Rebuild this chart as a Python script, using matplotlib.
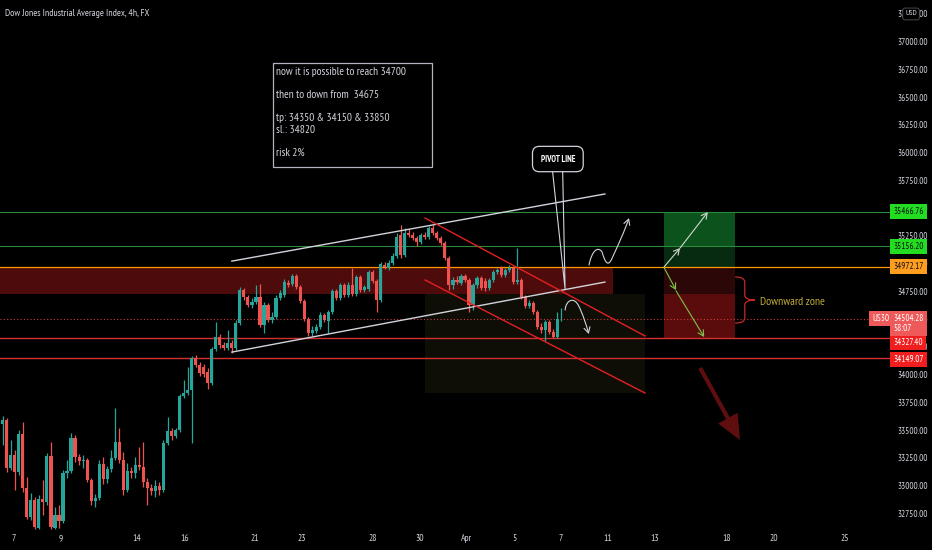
import numpy as np
import matplotlib
matplotlib.use("Agg")
import matplotlib.pyplot as plt
import matplotlib.transforms as mtransforms
from matplotlib.patches import Rectangle, FancyArrowPatch, PathPatch
from matplotlib.path import Path

plt.rcParams["font.family"] = ["PT Sans Narrow", "DejaVu Sans"]

TITLE = "Dow Jones Industrial Average Index, 4h, FX"

# 4h candles, US30 (price in points)
opens = [
    33555, 33591, 33158, 33275, 33122, 33465, 32978, 32717, 32870, 32618,
    32879, 32852, 33266, 32618, 32735, 32681, 33113, 33131, 33429, 33257,
    33221, 33230, 33050, 32861, 32888, 33194, 33059, 33149, 33248, 33393,
    33230, 32960, 33131, 33113, 33185, 33167, 33032, 32978, 32951, 32996,
    32960, 33384, 33492, 33447, 33501, 33807, 33834, 33861, 34150, 34086,
    34068, 34023, 33924, 34231, 34339, 34267, 34240, 34285, 34240, 34465,
    34762, 34699, 34627, 34654, 34699, 34447, 34627, 34492, 34519, 34690,
    34717, 34825, 34816, 34888, 34789, 34663, 34501, 34375, 34393, 34429,
    34537, 34483, 34564, 34753, 34690, 34807, 34717, 34807, 34726, 34879,
    34762, 34771, 34924, 34843, 34672, 34987, 34960, 35005, 35069, 35258,
    35078, 35276, 35258, 35231, 35195, 35258, 35240, 35321, 35276, 35231,
    35186, 35050, 34807, 34852, 34825, 34888, 34852, 34627, 34807, 34870,
    34843, 34780, 34852, 34924, 34960, 34898, 34942, 34960, 34834, 34852,
    34699, 34618, 34645, 34564, 34429, 34402, 34474, 34384, 34339, 34497,
]
highs = [
    33627, 33609, 33411, 33320, 33501, 33573, 33077, 32933, 32897, 32915,
    33050, 33293, 33393, 32807, 32825, 33140, 33230, 33474, 33456, 33284,
    33275, 33248, 33068, 32924, 33230, 33257, 33176, 33320, 33699, 33519,
    33302, 33203, 33167, 33257, 33348, 33393, 33068, 33014, 33050, 33032,
    33411, 33618, 33519, 33519, 33825, 33951, 34068, 34168, 34177, 34113,
    34095, 34059, 34249, 34474, 34366, 34294, 34402, 34312, 34492, 34789,
    34780, 34717, 34690, 34807, 34816, 34654, 34645, 34564, 34717, 34762,
    34861, 34852, 34906, 34906, 34807, 34681, 34519, 34438, 34456, 34564,
    34555, 34582, 34771, 34771, 34825, 34825, 34834, 34960, 34897, 34897,
    34807, 34942, 34942, 34861, 35014, 35014, 35032, 35095, 35276, 35348,
    35321, 35312, 35285, 35249, 35276, 35285, 35339, 35348, 35294, 35249,
    35204, 35069, 34879, 34888, 34906, 34906, 34870, 34825, 34888, 34888,
    34870, 34870, 34942, 34960, 34978, 34960, 34987, 34978, 35140, 34870,
    34717, 34672, 34663, 34582, 34465, 34492, 34492, 34411, 34560, 34600,
]
lows = [
    33366, 33122, 33140, 32960, 33095, 32942, 32699, 32690, 32610, 32610,
    32735, 32825, 32610, 32610, 32618, 32663, 33068, 33113, 33212, 33185,
    33158, 33032, 32825, 32807, 32870, 33014, 33023, 33122, 33230, 33203,
    32915, 32942, 33068, 33068, 33140, 32987, 32825, 32915, 32897, 32915,
    32942, 33366, 33411, 33429, 33483, 33789, 33816, 33384, 34069, 33987,
    33978, 33870, 33906, 34213, 34240, 34222, 34222, 34195, 34222, 34447,
    34672, 34609, 34600, 34636, 34429, 34375, 34474, 34465, 34501, 34672,
    34699, 34789, 34798, 34771, 34645, 34483, 34348, 34348, 34375, 34411,
    34474, 34375, 34546, 34672, 34672, 34699, 34699, 34708, 34708, 34744,
    34744, 34753, 34825, 34564, 34654, 34951, 34942, 34987, 35050, 35050,
    35059, 35240, 35213, 35158, 35177, 35222, 35222, 35258, 35213, 35168,
    35032, 34762, 34771, 34816, 34807, 34834, 34564, 34582, 34780, 34762,
    34753, 34762, 34834, 34906, 34880, 34880, 34924, 34816, 34816, 34681,
    34600, 34600, 34546, 34411, 34375, 34303, 34366, 34330, 34330, 34483,
]
closes = [
    33591, 33158, 33275, 33122, 33465, 32978, 32717, 32870, 32625, 32879,
    32852, 33266, 32625, 32735, 32681, 33113, 33131, 33429, 33257, 33221,
    33230, 33050, 32861, 32888, 33194, 33059, 33149, 33248, 33393, 33230,
    32960, 33131, 33113, 33185, 33167, 33032, 32978, 32951, 32996, 32960,
    33384, 33492, 33447, 33501, 33807, 33834, 33861, 34150, 34086, 34014,
    34005, 33924, 34231, 34339, 34267, 34240, 34285, 34240, 34465, 34762,
    34699, 34627, 34654, 34699, 34447, 34627, 34492, 34519, 34690, 34735,
    34834, 34807, 34888, 34789, 34663, 34501, 34375, 34402, 34429, 34537,
    34492, 34564, 34753, 34690, 34807, 34717, 34807, 34726, 34879, 34762,
    34789, 34924, 34843, 34672, 34996, 34969, 35005, 35069, 35240, 35078,
    35276, 35258, 35231, 35195, 35258, 35240, 35321, 35276, 35231, 35186,
    35050, 34807, 34852, 34834, 34888, 34852, 34627, 34807, 34870, 34780,
    34780, 34852, 34924, 34942, 34898, 34942, 34960, 34834, 34852, 34699,
    34618, 34645, 34564, 34429, 34402, 34474, 34384, 34339, 34501, 34504.28,
]

# time axis (bar index of each date label)
date_tick_pos = [2.6, 14.5, 33.4, 45.2, 62.8, 74.5, 92.1, 103.8, 115.3,
                 127.2, 138.9, 150.6, 162.3, 180.2, 191.9, 209.5]
date_tick_labels = ["7", "9", "14", "16", "21", "23", "28", "30", "Apr",
                    "5", "7", "11", "13", "18", "20", "25"]
price_ticks = [32750, 33000, 33250, 33500, 33750, 34000, 34250, 34500, 34750,
               35000, 35250, 35500, 35750, 36000, 36250, 36500, 36750, 37000,
               37250]

# horizontal levels
level_tp2 = 35466.76
level_tp1 = 35156.20
level_entry = 34972.17
level_last = 34504.28
level_s1 = 34327.40
level_s2 = 34149.07
zone_low = 34726
zone_sl_mid = 34730

# drawings (bar index, price)
white_upper = ([57.0, 149.8], [35023, 35628])
white_lower = ([57.0, 149.8], [34203, 34834])
red_upper = ([105.05, 159.8], [35411, 34348])
red_lower = ([105.05, 159.8], [34853, 33834])
pivot_tail = ([136.8, 139.9, 139.3], [35826, 34771, 35826])

NOTE = ("now it is possible to reach 34700\n\n"
        "then to down from  34675\n\n"
        "tp: 34350 & 34150 & 33850\n"
        "sl.: 34820\n\n"
        "risk 2%")

BG = "black"
TXT = "#d1d4dc"
UP = "#26a69a"
DOWN = "#ef5350"

fig = plt.figure(figsize=(9.32, 5.5), dpi=100, facecolor=BG)
ax = fig.add_axes([0, 20 / 550, 891 / 932, 530 / 550])
ax.set_facecolor(BG)
x_left, x_right = -0.67, 220.97
ax.set_xlim(x_left, x_right)
ax.set_ylim(32600, 37376)
for s in ax.spines.values():
    s.set_visible(False)

# zones
ax.add_patch(Rectangle((x_left, zone_low), 151.8 - x_left, level_entry - zone_low,
                       facecolor="#4d0b0b", edgecolor="none", zorder=1))
ax.add_patch(Rectangle((105.05, 33834), 54.75, zone_low - 33834,
                       facecolor="#0e0e07", edgecolor="none", zorder=0.5))
ax.add_patch(Rectangle((164.5, level_tp1), 17.7, level_tp2 - level_tp1,
                       facecolor="#0c521c", edgecolor="none", zorder=1))
ax.add_patch(Rectangle((164.5, level_entry), 17.7, level_tp1 - level_entry,
                       facecolor="#072b10", edgecolor="none", zorder=1))
ax.add_patch(Rectangle((164.5, zone_sl_mid), 17.7, level_entry - zone_sl_mid,
                       facecolor="#2c0707", edgecolor="none", zorder=1))
ax.add_patch(Rectangle((164.5, level_s1), 17.7, zone_sl_mid - level_s1,
                       facecolor="#5a0c0c", edgecolor="none", zorder=1))

# level lines
ax.axhline(level_tp2, color="#2a8a3a", lw=0.8, zorder=2)
ax.axhline(level_tp1, color="#2a8a3a", lw=0.8, zorder=2)
ax.axhline(level_entry, color="#ff9800", lw=0.9, zorder=2)
ax.axhline(level_last, color="#d23c3c", lw=0.8, ls=(0, (1, 2)), zorder=2)
ax.axhline(level_s1, color="#d32f2f", lw=1.0, zorder=2)
ax.axhline(level_s2, color="#d32f2f", lw=1.0, zorder=2)

# candles
o = np.array(opens, dtype=float)
h = np.array(highs, dtype=float)
lo = np.array(lows, dtype=float)
c = np.array(closes, dtype=float)
xs = np.arange(len(c))
cols = np.where(c >= o, UP, DOWN)
ax.vlines(xs, lo, h, colors=cols, lw=0.9, zorder=3)
body_h = np.maximum(np.abs(c - o), 6)
ax.bar(xs, body_h, bottom=np.minimum(o, c), width=0.78, color=cols,
       linewidth=0, zorder=3)

# channels
ax.plot(*white_upper, color=TXT, lw=1.0, zorder=4)
ax.plot(*white_lower, color=TXT, lw=1.0, zorder=4)
ax.plot(*red_upper, color="#e52020", lw=1.0, zorder=4)
ax.plot(*red_lower, color="#e52020", lw=1.0, zorder=4)

# note box
ax.add_patch(Rectangle((67.2, 35871), 39.6, 937, fill=False,
                       edgecolor="#b2b5be", lw=0.9, zorder=5))
ax.text(68.0, 36775, NOTE, ha="left", va="top", fontsize=8.2, color=TXT,
        linespacing=1.2, zorder=5)

# pivot callout
ax.plot(*pivot_tail, color=TXT, lw=0.8, zorder=5)
ax.text(138.1, 35943, "PIVOT LINE", ha="center", va="center", fontsize=6.2,
        fontweight="bold", color="white", zorder=6,
        bbox=dict(boxstyle="round,pad=0.95,rounding_size=0.8", fc=BG,
                  ec=TXT, lw=0.9))

# arrows in the position box
arrow_kw = dict(shrinkA=0, shrinkB=0, mutation_scale=1, zorder=6)
for a, b, col in [((164.5, 34970), (168.5, 35141), "#cfd8cf"),
                  ((168.5, 35141), (175.4, 35465), "#cfd8cf"),
                  ((164.5, 34965), (167.5, 34762), "#7fc24a"),
                  ((167.5, 34755), (174.5, 34339), "#7fc24a")]:
    ax.add_patch(FancyArrowPatch(a, b, arrowstyle="->,head_length=4,head_width=2.2",
                                 color=col, lw=0.8, **arrow_kw))

# big downward arrow
ax.add_patch(FancyArrowPatch((173.5, 34060), (183.4, 33411),
                             arrowstyle="simple,head_length=18,head_width=16,tail_width=3",
                             color="#5e0e0e", lw=0, **arrow_kw))

# curved path arrows
up_curve = Path(
    [(145.85, 34988), (146.6, 35123), (148.1, 35159), (149.1, 35105),
     (149.8, 35015), (150.6, 34961), (151.6, 35051),
     (153.1, 35168), (154.6, 35285), (155.8, 35411)],
    [Path.MOVETO] + [Path.CURVE4] * 9)
down_curve = Path(
    [(139.9, 34582), (140.1, 34672), (142.1, 34708), (143.3, 34618),
     (144.3, 34546), (145.1, 34456), (145.8, 34366)],
    [Path.MOVETO] + [Path.CURVE4] * 6)
for pth in (up_curve, down_curve):
    ax.add_patch(FancyArrowPatch(path=pth, arrowstyle="->,head_length=4,head_width=2.2",
                                 color=TXT, lw=0.8, mutation_scale=1, zorder=6))

# brace and label
brace = Path(
    [(182.2, 34880), (184.6, 34880), (184.6, 34834), (184.6, 34717),
     (184.6, 34672), (187.1, 34672), (184.6, 34672), (184.6, 34627),
     (184.6, 34510), (184.6, 34465), (182.2, 34465)],
    [Path.MOVETO, Path.CURVE3, Path.CURVE3, Path.LINETO, Path.CURVE3,
     Path.CURVE3, Path.CURVE3, Path.CURVE3, Path.LINETO, Path.CURVE3,
     Path.CURVE3])
ax.add_patch(PathPatch(brace, fill=False, edgecolor="#c62828", lw=0.9, zorder=6))
ax.text(188.4, 34654, "Downward zone", ha="left", va="center", fontsize=8.5,
        color="#c2ad3a", zorder=6)

# axes
ax.yaxis.tick_right()
ax.set_yticks(price_ticks, [f"{v:.2f}" for v in price_ticks])
ax.set_xticks(date_tick_pos, date_tick_labels)
ax.tick_params(axis="y", length=0, pad=4.5, labelsize=6.6, labelcolor=TXT)
ax.tick_params(axis="x", length=0, pad=3, labelsize=6.8, labelcolor=TXT)

# price labels on the scale (stacked the way the scale pushes them apart)
yx = mtransforms.blended_transform_factory(ax.transAxes, ax.transData)
for lvl, shift, fc, tc in [(level_tp2, 0, "#22dd22", "#111111"),
                           (level_tp1, 0, "#22dd22", "#111111"),
                           (level_entry, 0, "#ff9d1e", "#111111"),
                           (level_s1, -35, "#f01e1e", "white"),
                           (level_s2, -15, "#f01e1e", "white")]:
    ax.text(1.0025, lvl + shift, f"{lvl:.2f}", transform=yx, ha="left",
            va="center", fontsize=6.6, color=tc, clip_on=False, zorder=8,
            bbox=dict(boxstyle="square,pad=0.32", fc=fc, ec="none"))
ax.text(1.0025, level_last + 40, f"{level_last:.2f}\n58:07", transform=yx,
        ha="left", va="top", fontsize=6.6, color="white", clip_on=False,
        zorder=9, linespacing=1.15,
        bbox=dict(boxstyle="square,pad=0.32", fc="#ee5a5a", ec="none"))
ax.text(0.998, level_last, "US30", transform=yx, ha="right", va="center",
        fontsize=6.6, color="white", clip_on=False, zorder=8,
        bbox=dict(boxstyle="square,pad=0.32", fc="#ee5a5a", ec="none"))
ax.text(1.0225, 37250, "USD", transform=yx, ha="center", va="center",
        fontsize=5.8, color=TXT, clip_on=False, zorder=8,
        bbox=dict(boxstyle="round,pad=0.3", fc=BG, ec="#555555", lw=0.6))

fig.text(5 / 932, 1 - 13 / 550, TITLE, ha="left", va="center", fontsize=7,
         color=TXT)

fig.savefig("out.png", dpi=100, facecolor=BG)
